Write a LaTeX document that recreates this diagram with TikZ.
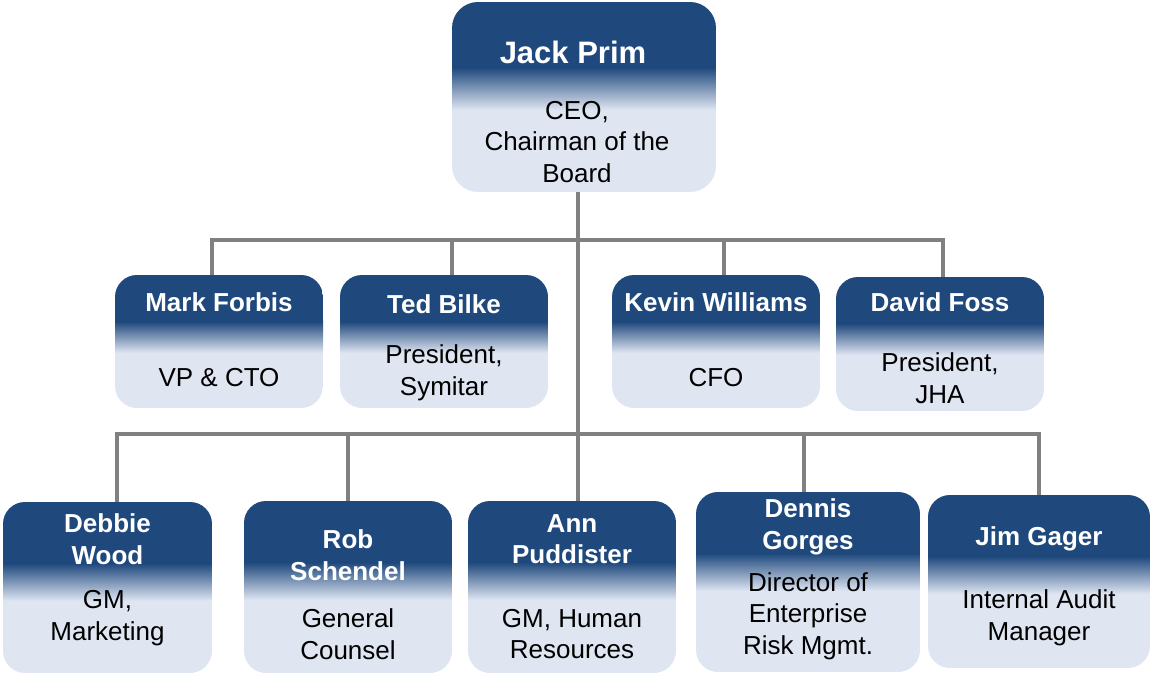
\documentclass[tikz,border=0pt]{standalone}
\usepackage{fontspec}
\setmainfont{Liberation Sans}
\usetikzlibrary{positioning, calc}

\definecolor{boxdark}{RGB}{31,73,125}
\definecolor{boxlight}{RGB}{223,230,242}
\definecolor{linkgray}{RGB}{128,128,128}

\tikzset{
    % rounded card: dark band on top (#1), fading into light over #2
    card/.style 2 args={rectangle, rounded corners=22pt, inner sep=0pt,
        path picture={
            \fill[boxlight, sharp corners] (path picture bounding box.south west) rectangle (path picture bounding box.north east);
            \fill[boxdark, sharp corners] (path picture bounding box.north west) rectangle ([yshift=-#1]path picture bounding box.north east);
            \shade[top color=boxdark, bottom color=boxlight, sharp corners] ([yshift=-#1+0.5pt]path picture bounding box.north west) rectangle ([yshift=-#1-#2]path picture bounding box.north east);
        }},
    toprow/.style={card={47pt}{31pt}, minimum width=208pt, minimum height=133pt},
    lowrow/.style={card={62pt}{37pt}, minimum width=208pt, minimum height=172pt},
    namelabel/.style={text=white, font=\fontsize{26}{31.5}\selectfont\bfseries, align=center, inner sep=0pt},
    rolelabel/.style={text=black, font=\fontsize{26}{31.5}\selectfont, align=center, inner sep=0pt},
    link/.style={draw=linkgray, line width=4pt}
}

\begin{document}
\begin{tikzpicture}[x=1pt, y=-1pt]
    \useasboundingbox (0,0) rectangle (1151,674);

    % CEO
    \node[card={66pt}{42pt}, minimum width=264pt, minimum height=190pt, rounded corners=26pt] (prim) at (584,97) {};
    \node[namelabel, font=\fontsize{31}{36}\selectfont\bfseries] (primname) at (573,52) {Jack Prim};
    \node[rolelabel] (primrole) at (577,142) {CEO,\\Chairman of the\\Board};

    % first row
    \node[toprow] (forbis) at (219,341.5) {};
    \node[namelabel] (forbisname) at (219,302) {Mark Forbis};
    \node[rolelabel] (forbisrole) at (219,378) {VP \& CTO};

    \node[toprow] (bilke) at (444,341.5) {};
    \node[namelabel] (bilkename) at (444,304) {Ted Bilke};
    \node[rolelabel] (bilkerole) at (444,373) {President,\\Symitar};

    \node[toprow] (williams) at (716,341.5) {};
    \node[namelabel] (williamsname) at (716,302) {Kevin Williams};
    \node[rolelabel] (williamsrole) at (716,378) {CFO};

    \node[toprow, minimum height=134pt] (foss) at (940,344) {};
    \node[namelabel] (fossname) at (940,302) {David Foss};
    \node[rolelabel] (fossrole) at (940,378) {President,\\JHA};

    % second row
    \node[lowrow, minimum width=209pt, minimum height=171pt] (wood) at (107.5,587.5) {};
    \node[namelabel] (woodname) at (107.5,539) {Debbie\\Wood};
    \node[rolelabel] (woodrole) at (107.5,618) {GM,\\Marketing};

    \node[lowrow] (schendel) at (348,587) {};
    \node[namelabel] (schendelname) at (348,555) {Rob\\Schendel};
    \node[rolelabel] (schendelrole) at (348,634) {General\\Counsel};

    \node[lowrow] (ann) at (572,587) {};
    \node[namelabel] (annname) at (572,539) {Ann\\Puddister};
    \node[rolelabel] (annrole) at (572,634) {GM, Human\\Resources};

    \node[lowrow, minimum width=224pt, minimum height=180pt] (gorges) at (808,582) {};
    \node[namelabel] (gorgesname) at (808,527) {Dennis\\Gorges};
    \node[rolelabel] (gorgesrole) at (808,616) {Director of\\Enterprise\\Risk Mgmt.};

    \node[lowrow, minimum width=222pt, minimum height=173pt] (gager) at (1039,581.5) {};
    \node[namelabel] (gagername) at (1039,539) {Jim Gager};
    \node[rolelabel] (gagerrole) at (1039,618) {Internal Audit\\Manager};

    % connectors
    \coordinate (bus1) at (578,240);
    \coordinate (bus2) at (578,434);
    \draw[link] (prim.south -| bus1) -- (ann.north -| bus1);
    \draw[link] ([xshift=-7pt]forbis.north) |- (bus1);
    \draw[link] ([xshift=8pt]bilke.north) |- (bus1);
    \draw[link] ([xshift=8pt]williams.north) |- (bus1);
    \draw[link] ([xshift=3pt]foss.north) |- (bus1);
    \draw[link] ([xshift=9pt]wood.north) |- (bus2);
    \draw[link] (schendel.north) |- (bus2);
    \draw[link] ([xshift=-4pt]gorges.north) |- (bus2);
    \draw[link] (gager.north) |- (bus2);
\end{tikzpicture}
\end{document}
